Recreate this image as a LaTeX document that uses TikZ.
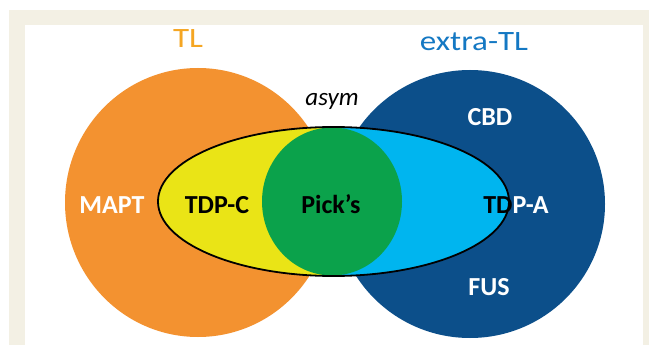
\documentclass[tikz,border=0pt]{standalone}
\usepackage{fontspec}
\setmainfont{Carlito}
\definecolor{beige}{RGB}{243,240,228}
\definecolor{tlorange}{RGB}{245,166,35}
\definecolor{tlblue}{RGB}{20,120,195}
\definecolor{orangefill}{RGB}{243,146,48}
\definecolor{bluefill}{RGB}{12,79,138}
\definecolor{yellowfill}{RGB}{234,228,22}
\definecolor{greenfill}{RGB}{11,162,75}
\definecolor{cyanfill}{RGB}{0,181,239}
\begin{document}
\begin{tikzpicture}[x=1pt,y=-1pt,
  lab/.style={font=\fontsize{26}{30}\selectfont\bfseries, anchor=base, inner sep=0pt},
  ttl/.style={font=\fontsize{28}{32}\selectfont, anchor=base, inner sep=0pt, xscale=1.18},
  outline/.style={draw=black, line width=1.8pt}]
\useasboundingbox (0,0) rectangle (649,345);
% background panel
\fill[beige] (9,10) rectangle (649,345);
\fill[white] (25,25) rectangle (643,345);
% big circles
\fill[orangefill] (198,202.5) ellipse [x radius=133pt, y radius=134.5pt];
\fill[bluefill] (470,204) ellipse [x radius=135pt, y radius=134pt];
% inner ellipse
\fill[yellowfill] (333.5,201.5) ellipse [x radius=175.5pt, y radius=74.5pt];
\begin{scope}
  \clip (333.5,201.5) ellipse [x radius=175.5pt, y radius=74.5pt];
  \fill[cyanfill] (332,120) rectangle (520,285);
  \fill[greenfill] (332,201.5) ellipse [x radius=70pt, y radius=74pt];
\end{scope}
\draw[outline] (333.5,201.5) ellipse [x radius=175.5pt, y radius=74.5pt];
% titles
\node[ttl, text=tlorange] (tl) at (188,48) {TL};
\node[ttl, text=tlblue] (xtl) at (474,50.5) {extra-TL};
% labels
\node[font=\fontsize{25}{30}\selectfont\itshape, anchor=base, inner sep=0pt] (asym) at (332,105.5) {asym};
\node[lab, text=white] (cbd) at (490,125) {CBD};
\node[lab, text=white] (mapt) at (112,213) {MAPT};
\node[lab, text=black] (tdpc) at (217,213) {TDP-C};
\node[lab, text=black] (picks) at (331,213) {Pick’s};
\node[lab] (tdpa) at (516,213) {\textcolor{black}{TD}\textcolor{white}{P-A}};
\node[lab, text=white] (fus) at (489,295) {FUS};
\end{tikzpicture}
\end{document}
